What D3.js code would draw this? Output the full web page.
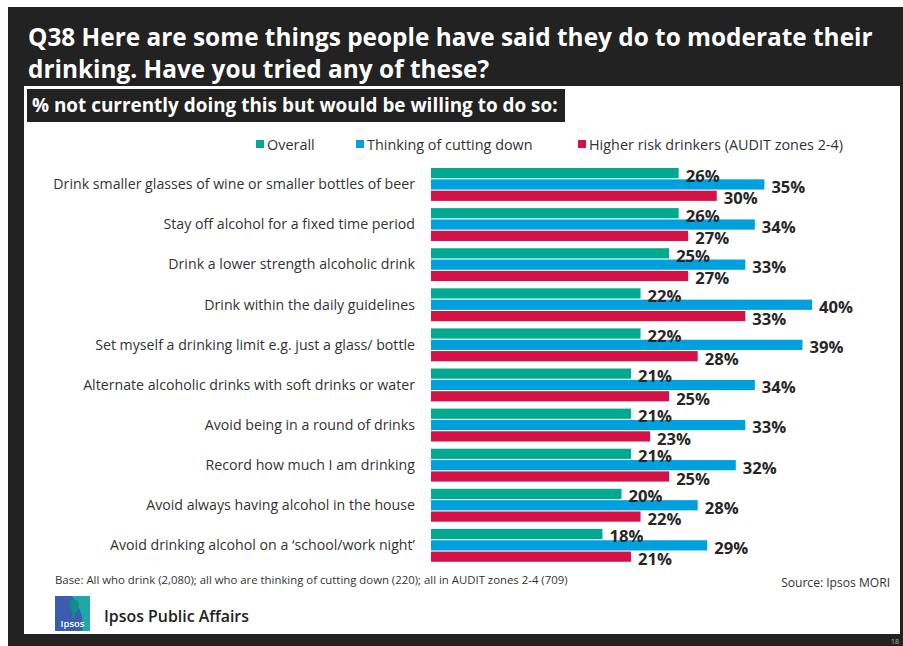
<!DOCTYPE html>
<html><head><meta charset="utf-8">
<script src="https://cdn.jsdelivr.net/npm/d3@7"></script>
<style>html,body{margin:0;padding:0;background:#fff;}svg{display:block;}</style>
</head><body>
<script>
const categories = [
  "Drink smaller glasses of wine or smaller bottles of beer",
  "Stay off alcohol for a fixed time period",
  "Drink a lower strength alcoholic drink",
  "Drink within the daily guidelines",
  "Set myself a drinking limit e.g. just a glass/ bottle",
  "Alternate alcoholic drinks with soft drinks or water",
  "Avoid being in a round of drinks",
  "Record how much I am drinking",
  "Avoid always having alcohol in the house",
  "Avoid drinking alcohol on a \u2018school/work night\u2019"
];
const seriesNames = ["Overall", "Thinking of cutting down", "Higher risk drinkers (AUDIT zones 2-4)"];
const overall  = [26, 26, 25, 22, 22, 21, 21, 21, 20, 18];
const thinking = [35, 34, 33, 40, 39, 34, 33, 32, 28, 29];
const higher   = [30, 27, 27, 33, 28, 25, 23, 25, 22, 21];
const colors = ["#00A98F", "#00A0DF", "#D31245"];

const W = 903, H = 646;
const FONT = "'Open Sans', 'Noto Sans', sans-serif";
const svg = d3.select("body").append("svg").attr("width", W).attr("height", H);

function fit(sel, target) {
  const w = sel.node().getComputedTextLength();
  const fs = parseFloat(sel.attr("font-size"));
  sel.attr("font-size", (fs * target / w).toFixed(2));
}

// frame
svg.append("rect").attr("x", 8).attr("y", 7).attr("width", W - 8).attr("height", H - 7).attr("fill", "#222222");
svg.append("rect").attr("x", 24).attr("y", 86).attr("width", 876).attr("height", 548).attr("fill", "#ffffff");

// title
const t1 = svg.append("text").attr("x", 28).attr("y", 46).attr("fill", "#fff").attr("font-family", FONT)
  .attr("font-weight", "bold").attr("font-size", 25).text("Q38 Here are some things people have said they do to moderate their");
fit(t1, 845);
svg.append("text").attr("x", 28).attr("y", 78).attr("fill", "#fff").attr("font-family", FONT)
  .attr("font-weight", "bold").attr("font-size", t1.attr("font-size")).text("drinking. Have you tried any of these?");

// subtitle box
svg.append("rect").attr("x", 27).attr("y", 89).attr("width", 538).attr("height", 33).attr("fill", "#222222");
const st = svg.append("text").attr("x", 32).attr("y", 112).attr("fill", "#fff").attr("font-family", FONT)
  .attr("font-weight", "bold").attr("font-size", 18).text("% not currently doing this but would be willing to do so:");
fit(st, 526);

// legend
const legendX = [256, 356, 578];
const lg = svg.append("g").attr("font-family", FONT).attr("fill", "#333");
const legTexts = [];
seriesNames.forEach((n, i) => {
  lg.append("rect").attr("x", legendX[i]).attr("y", 140).attr("width", 8).attr("height", 8).attr("fill", colors[i]);
  legTexts.push(lg.append("text").attr("x", legendX[i] + 11).attr("y", 149.5).attr("font-size", 14).text(n));
});
fit(legTexts[2], 843 - 589);
legTexts.forEach(t => t.attr("font-size", legTexts[2].attr("font-size")));

// scales
const x = d3.scaleLinear().domain([0, 40]).range([431, 812]);
const y0 = d3.scaleBand().domain(categories).range([164.4, 565.4]).paddingInner(0.18).paddingOuter(0.09);
const y1 = d3.scaleBand().domain(seriesNames).range([0, y0.bandwidth()]).paddingInner(0.1);

const data = categories.map((c, i) => ({ cat: c, vals: [overall[i], thinking[i], higher[i]] }));

const groups = svg.append("g").selectAll("g").data(data).join("g")
  .attr("transform", d => `translate(0,${y0(d.cat)})`);

groups.selectAll("rect").data(d => d.vals.map((v, j) => ({ v, s: seriesNames[j], j }))).join("rect")
  .attr("x", x(0)).attr("y", d => y1(d.s)).attr("width", d => x(d.v) - x(0)).attr("height", y1.bandwidth())
  .attr("fill", d => colors[d.j]);

const vals = groups.selectAll("text.val").data(d => d.vals.map((v, j) => ({ v, s: seriesNames[j], j }))).join("text")
  .attr("class", "val")
  .attr("x", d => x(d.v) + 7).attr("y", d => y1(d.s) + y1.bandwidth() / 2 + 4)
  .attr("dominant-baseline", "middle")
  .attr("font-family", FONT).attr("font-weight", "bold").attr("font-size", 16).attr("fill", "#262626")
  .text(d => d.v + "%");
const firstVal = vals.filter((d, i) => i === 0);
fit(firstVal, 34);
svg.selectAll("text.val").attr("font-size", firstVal.attr("font-size"));

// category labels
const catLabels = groups.append("text").attr("class", "cat")
  .attr("x", 415).attr("y", y0.bandwidth() / 2 + 1)
  .attr("text-anchor", "end").attr("dominant-baseline", "middle")
  .attr("font-family", FONT).attr("font-size", 14).attr("fill", "#333")
  .text(d => d.cat);
const firstCat = catLabels.filter((d, i) => i === 0);
fit(firstCat, 362);
catLabels.attr("font-size", firstCat.attr("font-size"));

// footer
const base = svg.append("text").attr("x", 55).attr("y", 584).attr("font-family", FONT).attr("font-size", 11).attr("fill", "#333")
  .text("Base: All who drink (2,080); all who are thinking of cutting down (220); all in AUDIT zones 2-4 (709)");
fit(base, 513);
const src = svg.append("text").attr("x", 890).attr("y", 587).attr("text-anchor", "end").attr("font-family", FONT)
  .attr("font-size", 12.5).attr("fill", "#333").text("Source: Ipsos MORI");
fit(src, 109);

// logo
const logo = svg.append("g").attr("transform", "translate(55,596)");
logo.append("rect").attr("width", 35).attr("height", 35).attr("fill", "#3A5DAE");
logo.append("path").attr("d", "M17,0 L35,0 L35,35 L27,35 Q31,20 17,0 Z").attr("fill", "#1FA8A8");
logo.append("path").attr("d", "M18,3 Q24,3 24,10 Q24,15 20,17 L20,22 L17,22 L17,15 Q14,12 14,8 Q14,3 18,3 Z").attr("fill", "#138a8f");
logo.append("text").attr("x", 17.5).attr("y", 31).attr("text-anchor", "middle").attr("font-family", FONT)
  .attr("font-size", 9.5).attr("font-weight", "600").attr("fill", "#fff").text("Ipsos");
const ipa = svg.append("text").attr("x", 104).attr("y", 622).attr("font-family", FONT).attr("font-weight", "600")
  .attr("font-size", 16).attr("fill", "#222").text("Ipsos Public Affairs");
fit(ipa, 145);

// page number
svg.append("text").attr("x", 899).attr("y", 644).attr("text-anchor", "end").attr("font-family", FONT)
  .attr("font-size", 7).attr("fill", "#bbb").text("18");
</script>
</body></html>
